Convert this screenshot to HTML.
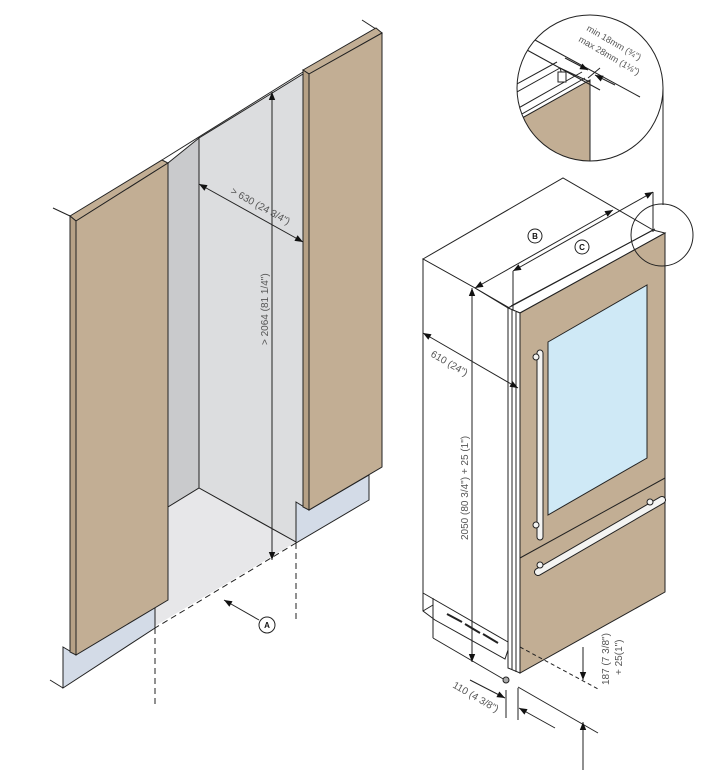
<!DOCTYPE html>
<html><head><meta charset="utf-8"><style>
html,body{margin:0;padding:0;background:#fff;width:705px;height:781px;overflow:hidden}
svg{display:block}
text{font-family:"Liberation Sans",sans-serif;fill:#555;font-size:10px}
</style></head><body>
<svg width="705" height="781" viewBox="0 0 705 781" xmlns="http://www.w3.org/2000/svg">
<defs>
<marker id="ar" viewBox="0 0 10 10" refX="10" refY="5" markerWidth="12" markerHeight="8" orient="auto-start-reverse" markerUnits="userSpaceOnUse"><path d="M0,1 L10,5 L0,9 z" fill="#111"/></marker>
</defs>
<g stroke="#222" stroke-width="1" fill="none">
<polygon points="199,138 303,74 303,507 296,542 199,488" fill="#dcdddf"/>
<polygon points="168,163 199,138 199,488 168,507" fill="#c9cacc"/>
<polygon points="168,507 199,488 296,542 155,626 155,607 168,600" fill="#e7e7e9" stroke="none"/>
<line x1="168" y1="507" x2="199" y2="488"/><line x1="199" y1="488" x2="296" y2="542"/>
<line x1="296" y1="543" x2="155" y2="628" stroke-dasharray="6,4"/>
<line x1="155" y1="628" x2="155" y2="708" stroke-dasharray="6,4"/>
<line x1="296" y1="543" x2="296" y2="620" stroke-dasharray="6,4"/>
<line x1="53" y1="208" x2="70" y2="216"/><line x1="362" y1="20" x2="382" y2="33"/>
<polygon points="63,647 75,654 155,607 155,628 63,688" fill="#d3dbe7"/>
<line x1="50" y1="680" x2="63" y2="688"/>
<polygon points="70,216 162,160 168,163 76,221" fill="#c2ae94"/>
<polygon points="70,216 76,221 76,655 70,652" fill="#b6a186"/>
<polygon points="76,221 168,163 168,600 76,655" fill="#c2ae94"/>
<polygon points="296,502 309,510 369,475 369,500 296,543" fill="#d3dbe7"/>
<polygon points="303,70 376,28 382,33 309,74" fill="#c2ae94"/>
<polygon points="303,70 309,74 309,510 303,507" fill="#b6a186"/>
<polygon points="309,74 382,33 382,467 309,510" fill="#c2ae94"/>
<line x1="162" y1="160" x2="303" y2="72"/>
<line x1="272" y1="92" x2="272" y2="560" marker-start="url(#ar)" marker-end="url(#ar)"/>
<line x1="199" y1="184" x2="303" y2="242" marker-start="url(#ar)" marker-end="url(#ar)"/>
<circle cx="267" cy="625" r="8" fill="#fff"/>
<line x1="259" y1="620" x2="224" y2="600" marker-end="url(#ar)"/>
<polygon points="423,259 563,178 653,230 653,238 520,313 508,308 475,288" fill="#fff"/>
<polygon points="423,259 475,288 508,308 508,650 505,659 435,620 423,611" fill="#fff"/>
<line x1="475" y1="288" x2="513" y2="310"/>
<line x1="423" y1="593" x2="508" y2="642"/>
<line x1="433" y1="598" x2="433" y2="638"/>
<line x1="423" y1="611" x2="433" y2="605"/>
<line x1="433" y1="638" x2="505" y2="680"/>
<g stroke-width="2"><line x1="447" y1="614" x2="462" y2="622"/><line x1="465" y1="624" x2="480" y2="633"/><line x1="483" y1="634" x2="498" y2="643"/></g>
<polygon points="508,308 653,230 665,233 520,313" fill="#fff"/>
<line x1="511" y1="306" x2="655" y2="229"/>
<polygon points="508,308 520,313 520,673 508,668" fill="#fff"/>
<line x1="512" y1="310" x2="512" y2="670"/><line x1="516" y1="312" x2="516" y2="672"/>
<polygon points="520,313 665,233 665,592 520,673" fill="#c2ae94"/>
<line x1="520" y1="558" x2="665" y2="478"/>
<polygon points="548,342 647,285 647,458 548,515" fill="#cfe9f6"/>
<rect x="537" y="350" width="6" height="190" rx="3" fill="#f4f4f2"/>
<circle cx="536" cy="357" r="3" fill="#f4f4f2"/><circle cx="536" cy="525" r="3" fill="#f4f4f2"/>
<line x1="538" y1="572" x2="662" y2="500" stroke="#222" stroke-width="8" stroke-linecap="round"/>
<line x1="538" y1="572" x2="662" y2="500" stroke="#f4f4f2" stroke-width="6" stroke-linecap="round"/>
<circle cx="540" cy="565" r="3" fill="#f4f4f2"/><circle cx="650" cy="502" r="3" fill="#f4f4f2"/>
<circle cx="506" cy="680" r="3" fill="#aaa"/>
<line x1="475" y1="288" x2="613" y2="210" marker-start="url(#ar)" marker-end="url(#ar)"/>
<line x1="513" y1="271" x2="653" y2="192" marker-start="url(#ar)" marker-end="url(#ar)"/>
<line x1="513" y1="271" x2="513" y2="310"/><line x1="653" y1="192" x2="653" y2="232"/>
<circle cx="535" cy="236" r="7" fill="#fff"/><circle cx="582" cy="247" r="7" fill="#fff"/>
<line x1="423" y1="333" x2="518" y2="388" marker-start="url(#ar)" marker-end="url(#ar)"/>
<line x1="472" y1="288" x2="472" y2="662" marker-start="url(#ar)" marker-end="url(#ar)"/>
<line x1="520" y1="647" x2="600" y2="690" stroke-dasharray="4,3"/>
<line x1="518" y1="687" x2="598" y2="733"/>
<line x1="583" y1="647" x2="583" y2="680" marker-end="url(#ar)"/>
<line x1="583" y1="770" x2="583" y2="722" marker-end="url(#ar)"/>
<line x1="506" y1="690" x2="506" y2="718"/><line x1="518" y1="688" x2="518" y2="720"/>
<line x1="470" y1="680" x2="505" y2="698" marker-end="url(#ar)"/>
<line x1="555" y1="728" x2="519" y2="708" marker-end="url(#ar)"/>
<circle cx="662" cy="235" r="31"/>
<line x1="663" y1="88" x2="663" y2="205"/>
<clipPath id="cc"><circle cx="590" cy="88" r="73"/></clipPath>
<g clip-path="url(#cc)">
<rect x="510" y="10" width="160" height="160" fill="#fff" stroke="none"/>
<polygon points="515,122 590,80 590,170 515,170" fill="#c2ae94"/>
<line x1="515" y1="118" x2="585" y2="78"/>
<line x1="515" y1="110" x2="582" y2="72"/>
<line x1="515" y1="93" x2="560" y2="68"/>
<line x1="515" y1="85" x2="557" y2="62"/>
<line x1="590" y1="82" x2="590" y2="170"/>
<line x1="535" y1="40" x2="640" y2="97"/>
<line x1="527" y1="50" x2="600" y2="90"/>
<line x1="560" y1="68" x2="563" y2="78"/><rect x="558" y="72" width="8" height="10" fill="#fff"/>
<line x1="560" y1="68" x2="590" y2="82"/>
</g>
<circle cx="590" cy="88" r="73"/>
<line x1="565" y1="58" x2="588" y2="70" marker-end="url(#ar)"/>
<line x1="615" y1="85" x2="595" y2="75" marker-end="url(#ar)"/>
<line x1="588" y1="78" x2="600" y2="68"/>
</g>
<text x="267" y="628" text-anchor="middle" style="fill:#111;font-size:8px;font-weight:bold">A</text>
<text x="535" y="239" text-anchor="middle" style="fill:#111;font-size:8px;font-weight:bold">B</text>
<text x="582" y="250" text-anchor="middle" style="fill:#111;font-size:8px;font-weight:bold">C</text>
<text transform="translate(230,193) rotate(29)">&gt; 630 (24 3/4")</text>
<text transform="translate(268,345) rotate(-90)">&gt; 2064 (81 1/4")</text>
<text transform="translate(430,356) rotate(30)">610 (24")</text>
<text transform="translate(468,540) rotate(-90)">2050 (80 3/4") + 25 (1")</text>
<text transform="translate(452,687) rotate(30)">110 (4 3/8")</text>
<text transform="translate(609,685) rotate(-90)">187 (7 3/8")</text>
<text transform="translate(622,675) rotate(-90)">+ 25(1")</text>
<text transform="translate(586,30) rotate(30)" style="font-size:9px">min 18mm (¾")</text>
<text transform="translate(578,41) rotate(30)" style="font-size:9px">max 28mm (1⅛")</text>
</svg>
</body></html>
